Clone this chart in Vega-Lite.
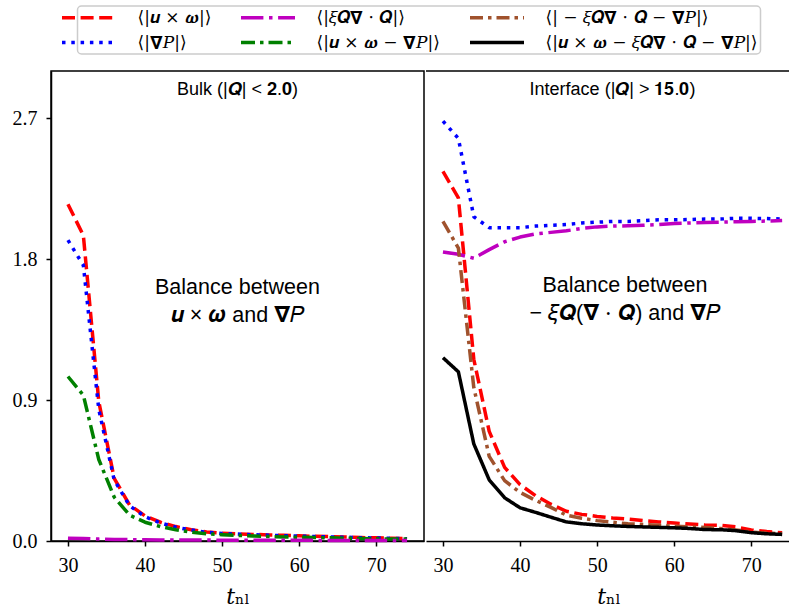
{
  "$schema": "https://vega.github.io/schema/vega-lite/v6.json",
  "background": "white",
  "padding": {"left": 11, "top": 5, "right": 0, "bottom": 5},
  "datasets": {
    "left": [
      {"t":30,"v":2.15,"s":"uw"},{"t":32,"v":1.95,"s":"uw"},{"t":34,"v":0.89,"s":"uw"},{"t":36,"v":0.40,"s":"uw"},{"t":38,"v":0.23,"s":"uw"},{"t":40,"v":0.16,"s":"uw"},{"t":42,"v":0.12,"s":"uw"},{"t":44,"v":0.092,"s":"uw"},{"t":46,"v":0.072,"s":"uw"},{"t":48,"v":0.058,"s":"uw"},{"t":50,"v":0.05,"s":"uw"},{"t":52,"v":0.046,"s":"uw"},{"t":54,"v":0.042,"s":"uw"},{"t":56,"v":0.039,"s":"uw"},{"t":58,"v":0.036,"s":"uw"},{"t":60,"v":0.033,"s":"uw"},{"t":62,"v":0.03,"s":"uw"},{"t":64,"v":0.028,"s":"uw"},{"t":66,"v":0.025,"s":"uw"},{"t":68,"v":0.022,"s":"uw"},{"t":70,"v":0.02,"s":"uw"},{"t":72,"v":0.018,"s":"uw"},{"t":74,"v":0.015,"s":"uw"},
      {"t":30,"v":1.92,"s":"gp"},{"t":32,"v":1.76,"s":"gp"},{"t":34,"v":0.84,"s":"gp"},{"t":36,"v":0.39,"s":"gp"},{"t":38,"v":0.225,"s":"gp"},{"t":40,"v":0.155,"s":"gp"},{"t":42,"v":0.115,"s":"gp"},{"t":44,"v":0.088,"s":"gp"},{"t":46,"v":0.07,"s":"gp"},{"t":48,"v":0.056,"s":"gp"},{"t":50,"v":0.048,"s":"gp"},{"t":52,"v":0.044,"s":"gp"},{"t":54,"v":0.04,"s":"gp"},{"t":56,"v":0.037,"s":"gp"},{"t":58,"v":0.034,"s":"gp"},{"t":60,"v":0.031,"s":"gp"},{"t":62,"v":0.029,"s":"gp"},{"t":64,"v":0.026,"s":"gp"},{"t":66,"v":0.024,"s":"gp"},{"t":68,"v":0.021,"s":"gp"},{"t":70,"v":0.019,"s":"gp"},{"t":72,"v":0.017,"s":"gp"},{"t":74,"v":0.014,"s":"gp"},
      {"t":30,"v":1.05,"s":"uwgp"},{"t":32,"v":0.93,"s":"uwgp"},{"t":34,"v":0.52,"s":"uwgp"},{"t":36,"v":0.28,"s":"uwgp"},{"t":38,"v":0.165,"s":"uwgp"},{"t":40,"v":0.12,"s":"uwgp"},{"t":42,"v":0.092,"s":"uwgp"},{"t":44,"v":0.072,"s":"uwgp"},{"t":46,"v":0.056,"s":"uwgp"},{"t":48,"v":0.046,"s":"uwgp"},{"t":50,"v":0.04,"s":"uwgp"},{"t":52,"v":0.036,"s":"uwgp"},{"t":54,"v":0.032,"s":"uwgp"},{"t":56,"v":0.029,"s":"uwgp"},{"t":58,"v":0.026,"s":"uwgp"},{"t":60,"v":0.024,"s":"uwgp"},{"t":62,"v":0.022,"s":"uwgp"},{"t":64,"v":0.02,"s":"uwgp"},{"t":66,"v":0.018,"s":"uwgp"},{"t":68,"v":0.016,"s":"uwgp"},{"t":70,"v":0.014,"s":"uwgp"},{"t":72,"v":0.013,"s":"uwgp"},{"t":74,"v":0.012,"s":"uwgp"},
      {"t":30,"v":0.018,"s":"xq"},{"t":32,"v":0.016,"s":"xq"},{"t":34,"v":0.012,"s":"xq"},{"t":36,"v":0.01,"s":"xq"},{"t":38,"v":0.009,"s":"xq"},{"t":40,"v":0.008,"s":"xq"},{"t":42,"v":0.007,"s":"xq"},{"t":44,"v":0.007,"s":"xq"},{"t":46,"v":0.006,"s":"xq"},{"t":48,"v":0.006,"s":"xq"},{"t":50,"v":0.005,"s":"xq"},{"t":52,"v":0.005,"s":"xq"},{"t":54,"v":0.005,"s":"xq"},{"t":56,"v":0.004,"s":"xq"},{"t":58,"v":0.004,"s":"xq"},{"t":60,"v":0.004,"s":"xq"},{"t":62,"v":0.004,"s":"xq"},{"t":64,"v":0.003,"s":"xq"},{"t":66,"v":0.003,"s":"xq"},{"t":68,"v":0.003,"s":"xq"},{"t":70,"v":0.003,"s":"xq"},{"t":72,"v":0.003,"s":"xq"},{"t":74,"v":0.003,"s":"xq"}
    ],
    "right": [
      {"t":30,"v":2.36,"s":"uw"},{"t":32,"v":2.19,"s":"uw"},{"t":34,"v":1.16,"s":"uw"},{"t":36,"v":0.70,"s":"uw"},{"t":38,"v":0.47,"s":"uw"},{"t":40,"v":0.36,"s":"uw"},{"t":42,"v":0.29,"s":"uw"},{"t":44,"v":0.235,"s":"uw"},{"t":46,"v":0.19,"s":"uw"},{"t":48,"v":0.17,"s":"uw"},{"t":50,"v":0.157,"s":"uw"},{"t":52,"v":0.147,"s":"uw"},{"t":54,"v":0.14,"s":"uw"},{"t":56,"v":0.13,"s":"uw"},{"t":58,"v":0.122,"s":"uw"},{"t":60,"v":0.115,"s":"uw"},{"t":62,"v":0.108,"s":"uw"},{"t":64,"v":0.102,"s":"uw"},{"t":66,"v":0.1,"s":"uw"},{"t":68,"v":0.09,"s":"uw"},{"t":70,"v":0.07,"s":"uw"},{"t":72,"v":0.06,"s":"uw"},{"t":74,"v":0.053,"s":"uw"},
      {"t":30,"v":2.68,"s":"gp"},{"t":32,"v":2.57,"s":"gp"},{"t":34,"v":2.07,"s":"gp"},{"t":36,"v":2.0,"s":"gp"},{"t":38,"v":2.0,"s":"gp"},{"t":40,"v":2.0,"s":"gp"},{"t":42,"v":2.01,"s":"gp"},{"t":44,"v":2.015,"s":"gp"},{"t":46,"v":2.02,"s":"gp"},{"t":48,"v":2.03,"s":"gp"},{"t":50,"v":2.035,"s":"gp"},{"t":52,"v":2.04,"s":"gp"},{"t":54,"v":2.04,"s":"gp"},{"t":56,"v":2.045,"s":"gp"},{"t":58,"v":2.05,"s":"gp"},{"t":60,"v":2.05,"s":"gp"},{"t":62,"v":2.052,"s":"gp"},{"t":64,"v":2.055,"s":"gp"},{"t":66,"v":2.055,"s":"gp"},{"t":68,"v":2.06,"s":"gp"},{"t":70,"v":2.06,"s":"gp"},{"t":72,"v":2.058,"s":"gp"},{"t":74,"v":2.055,"s":"gp"},
      {"t":30,"v":1.845,"s":"xq"},{"t":32,"v":1.83,"s":"xq"},{"t":34,"v":1.805,"s":"xq"},{"t":36,"v":1.86,"s":"xq"},{"t":38,"v":1.91,"s":"xq"},{"t":40,"v":1.94,"s":"xq"},{"t":42,"v":1.96,"s":"xq"},{"t":44,"v":1.97,"s":"xq"},{"t":46,"v":1.98,"s":"xq"},{"t":48,"v":1.995,"s":"xq"},{"t":50,"v":2.005,"s":"xq"},{"t":52,"v":2.01,"s":"xq"},{"t":54,"v":2.012,"s":"xq"},{"t":56,"v":2.015,"s":"xq"},{"t":58,"v":2.02,"s":"xq"},{"t":60,"v":2.027,"s":"xq"},{"t":62,"v":2.03,"s":"xq"},{"t":64,"v":2.033,"s":"xq"},{"t":66,"v":2.035,"s":"xq"},{"t":68,"v":2.038,"s":"xq"},{"t":70,"v":2.04,"s":"xq"},{"t":72,"v":2.042,"s":"xq"},{"t":74,"v":2.045,"s":"xq"},
      {"t":30,"v":2.04,"s":"xqgp"},{"t":32,"v":1.87,"s":"xqgp"},{"t":34,"v":0.98,"s":"xqgp"},{"t":36,"v":0.54,"s":"xqgp"},{"t":38,"v":0.385,"s":"xqgp"},{"t":40,"v":0.31,"s":"xqgp"},{"t":42,"v":0.26,"s":"xqgp"},{"t":44,"v":0.215,"s":"xqgp"},{"t":46,"v":0.165,"s":"xqgp"},{"t":48,"v":0.145,"s":"xqgp"},{"t":50,"v":0.13,"s":"xqgp"},{"t":52,"v":0.12,"s":"xqgp"},{"t":54,"v":0.11,"s":"xqgp"},{"t":56,"v":0.105,"s":"xqgp"},{"t":58,"v":0.1,"s":"xqgp"},{"t":60,"v":0.095,"s":"xqgp"},{"t":62,"v":0.09,"s":"xqgp"},{"t":64,"v":0.086,"s":"xqgp"},{"t":66,"v":0.08,"s":"xqgp"},{"t":68,"v":0.07,"s":"xqgp"},{"t":70,"v":0.058,"s":"xqgp"},{"t":72,"v":0.05,"s":"xqgp"},{"t":74,"v":0.047,"s":"xqgp"},
      {"t":30,"v":1.17,"s":"all"},{"t":32,"v":1.08,"s":"all"},{"t":34,"v":0.62,"s":"all"},{"t":36,"v":0.39,"s":"all"},{"t":38,"v":0.276,"s":"all"},{"t":40,"v":0.212,"s":"all"},{"t":42,"v":0.183,"s":"all"},{"t":44,"v":0.152,"s":"all"},{"t":46,"v":0.122,"s":"all"},{"t":48,"v":0.11,"s":"all"},{"t":50,"v":0.102,"s":"all"},{"t":52,"v":0.097,"s":"all"},{"t":54,"v":0.093,"s":"all"},{"t":56,"v":0.09,"s":"all"},{"t":58,"v":0.087,"s":"all"},{"t":60,"v":0.084,"s":"all"},{"t":62,"v":0.08,"s":"all"},{"t":64,"v":0.073,"s":"all"},{"t":66,"v":0.072,"s":"all"},{"t":68,"v":0.066,"s":"all"},{"t":70,"v":0.053,"s":"all"},{"t":72,"v":0.046,"s":"all"},{"t":74,"v":0.042,"s":"all"}
    ],
    "one": [{"k": 1}]
  },
  "hconcat": [
    {
      "width": 373,
      "height": 470,
      "layer": [
        {
          "data": {"name": "left"},
          "mark": {"type": "line", "strokeWidth": 3.5, "strokeJoin": "round"},
          "encoding": {
            "x": {"field": "t", "type": "quantitative", "scale": {"domain": [27.8, 76.2], "nice": false, "zero": false},
                  "axis": {"values": [30, 40, 50, 60, 70], "title": "𝑡ₙₗ"}},
            "y": {"field": "v", "type": "quantitative", "scale": {"domain": [0, 3.0], "nice": false, "zero": false},
                  "axis": {"values": [0, 0.9, 1.8, 2.7], "format": ".1f", "title": null}},
            "color": {"field": "s", "type": "nominal", "title": null,
                      "scale": {"domain": ["uw", "xq", "xqgp", "gp", "uwgp", "all"],
                                "range": ["#ff0000", "#bf00bf", "#a0522d", "#0000ff", "#008000", "#000000"]},
                      "legend": {"orient": "none", "legendX": 26.5, "legendY": -65, "direction": "horizontal", "columns": 3,
                                 "labelExpr": "{'uw': '⟨|𝒖 × 𝝎|⟩', 'xq': '⟨|𝜉𝑸𝛁 ⋅ 𝑸|⟩', 'xqgp': '⟨| − 𝜉𝑸𝛁 ⋅ 𝑸 − 𝛁𝑃|⟩', 'gp': '⟨|𝛁𝑃|⟩', 'uwgp': '⟨|𝒖 × 𝝎 − 𝛁𝑃|⟩', 'all': '⟨|𝒖 × 𝝎 − 𝜉𝑸𝛁 ⋅ 𝑸 − 𝛁𝑃|⟩'}[datum.label]"}},
            "strokeDash": {"field": "s", "type": "nominal", "title": null,
                      "scale": {"domain": ["uw", "xq", "xqgp", "gp", "uwgp", "all"],
                                "range": [[13, 5.6], [22.4, 5.6, 3.5, 5.6], [13, 5, 3.5, 5], [3.5, 5.8], [14, 5, 3.5, 5], [1, 0]]},
                      "legend": {"orient": "none", "legendX": 26.5, "legendY": -65, "direction": "horizontal", "columns": 3,
                                 "labelExpr": "{'uw': '⟨|𝒖 × 𝝎|⟩', 'xq': '⟨|𝜉𝑸𝛁 ⋅ 𝑸|⟩', 'xqgp': '⟨| − 𝜉𝑸𝛁 ⋅ 𝑸 − 𝛁𝑃|⟩', 'gp': '⟨|𝛁𝑃|⟩', 'uwgp': '⟨|𝒖 × 𝝎 − 𝛁𝑃|⟩', 'all': '⟨|𝒖 × 𝝎 − 𝜉𝑸𝛁 ⋅ 𝑸 − 𝛁𝑃|⟩'}[datum.label]"}}
          }
        },
        {
          "data": {"name": "one"},
          "mark": {"type": "text", "font": "Liberation Sans", "fontSize": 18, "baseline": "middle", "align": "center", "color": "black"},
          "encoding": {"x": {"datum": 52}, "y": {"datum": 2.879}, "text": {"value": "Bulk (|𝑸| < 𝟐.𝟎)"}}
        },
        {
          "data": {"name": "one"},
          "mark": {"type": "text", "font": "Liberation Sans", "fontSize": 21.5, "baseline": "middle", "align": "center", "color": "black", "lineHeight": 28},
          "encoding": {"x": {"datum": 52}, "y": {"datum": 1.615}, "text": {"value": ["Balance between", "𝒖 × 𝝎 and 𝛁𝑃"]}}
        }
      ]
    },
    {
      "width": 365,
      "height": 470,
      "view": {"stroke": null},
      "layer": [
        {
          "data": {"name": "right"},
          "mark": {"type": "line", "strokeWidth": 3.5, "strokeJoin": "round"},
          "encoding": {
            "x": {"field": "t", "type": "quantitative", "scale": {"domain": [27.8, 75.15], "nice": false, "zero": false},
                  "axis": {"values": [30, 40, 50, 60, 70], "title": "𝑡ₙₗ"}},
            "y": {"field": "v", "type": "quantitative", "scale": {"domain": [0, 3.0], "nice": false, "zero": false}, "axis": null},
            "color": {"field": "s", "type": "nominal", "title": null,
                      "scale": {"domain": ["uw", "xq", "xqgp", "gp", "uwgp", "all"],
                                "range": ["#ff0000", "#bf00bf", "#a0522d", "#0000ff", "#008000", "#000000"]}},
            "strokeDash": {"field": "s", "type": "nominal", "title": null,
                      "scale": {"domain": ["uw", "xq", "xqgp", "gp", "uwgp", "all"],
                                "range": [[13, 5.6], [22.4, 5.6, 3.5, 5.6], [13, 5, 3.5, 5], [3.5, 5.8], [14, 5, 3.5, 5], [1, 0]]}}
          }
        },
        {
          "data": {"name": "one"},
          "mark": {"type": "rule", "strokeWidth": 1.5, "color": "black"},
          "encoding": {"y": {"datum": 3.0}}
        },
        {
          "data": {"name": "one"},
          "mark": {"type": "text", "font": "Liberation Sans", "fontSize": 18, "baseline": "middle", "align": "center", "color": "black"},
          "encoding": {"x": {"datum": 52}, "y": {"datum": 2.879}, "text": {"value": "Interface (|𝑸| > 𝟏𝟓.𝟎)"}}
        },
        {
          "data": {"name": "one"},
          "mark": {"type": "text", "font": "Liberation Sans", "fontSize": 21.5, "baseline": "middle", "align": "center", "color": "black", "lineHeight": 28},
          "encoding": {"x": {"datum": 53.6}, "y": {"datum": 1.628}, "text": {"value": ["Balance between", "− 𝜉𝑸(𝛁 ⋅ 𝑸) and 𝛁𝑃"]}}
        }
      ]
    }
  ],
  "spacing": 0,
  "config": {
    "view": {"stroke": "black", "strokeWidth": 1.5},
    "axis": {"domainColor": "black", "domainWidth": 1.5, "tickColor": "black", "tickWidth": 1.5, "tickSize": 5,
             "labelFont": "Liberation Serif", "labelFontSize": 20, "labelColor": "black", "labelPadding": 9, "grid": false,
             "titleFont": "DejaVu Serif", "titleFontSize": 22, "titleFontWeight": "normal", "titleColor": "black", "titlePadding": 11},
    "legend": {
      "symbolType": "M-6,0H6", "symbolSize": 81, "symbolStrokeWidth": 3.5,
      "labelFont": "DejaVu Serif", "labelFontSize": 17, "labelColor": "black", "labelOffset": 40, "labelLimit": 500,
      "columnPadding": 22, "rowPadding": 7, "padding": 3, "strokeColor": "#cccccc", "strokeWidth": 1.5, "cornerRadius": 4, "fillColor": "white"
    }
  }
}
